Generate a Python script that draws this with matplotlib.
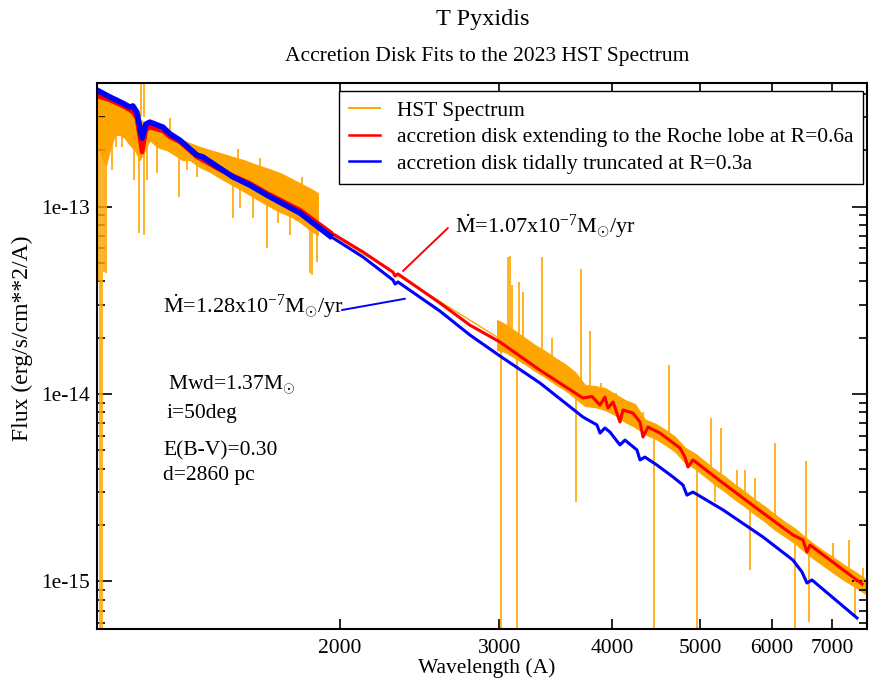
import numpy as np
import matplotlib
matplotlib.use('Agg')
import matplotlib.pyplot as plt
from matplotlib.lines import Line2D
from matplotlib.ticker import FixedLocator, FuncFormatter, NullFormatter, NullLocator

plt.rcParams['font.family'] = ['Liberation Serif', 'DejaVu Serif']
plt.rcParams['mathtext.fontset'] = 'custom'
plt.rcParams['mathtext.rm'] = 'Liberation Serif'
plt.rcParams['mathtext.it'] = 'Liberation Serif:italic'

SC = 1e-13  # all fluxes below are in units of 1e-13 erg/s/cm**2/A

# HST spectrum, UV part (noisy band: upper / lower envelope)
uv_wave = [1078, 1086, 1094, 1103, 1114, 1128, 1143, 1157, 1172, 1187,
           1202, 1218, 1233, 1249, 1265, 1288, 1315, 1341, 1365, 1401,
           1437, 1474, 1523, 1571, 1611, 1661, 1717, 1761, 1807, 1853, 1891]
uv_hi = [4.18, 3.93, 3.70, 3.70, 3.70, 3.70, 3.48, 3.35, 3.19, 3.08,
         2.89, 2.82, 2.79, 2.72, 2.62, 2.56, 2.41, 2.26, 2.18, 2.08,
         2.00, 1.93, 1.84, 1.76, 1.68, 1.60, 1.51, 1.42, 1.33, 1.25, 1.18]
uv_lo = [2.41, 2.00, 1.77, 1.66, 2.00, 2.41, 2.41, 2.32, 2.13, 2.00,
         1.77, 2.00, 2.26, 2.13, 2.05, 2.00, 1.88, 1.77, 1.77, 1.62,
         1.53, 1.42, 1.30, 1.195, 1.11, 1.02, 0.935, 0.890, 0.827, 0.750, 0.705]

# gap between the UV and optical spectra (joined by a straight line)
gap_wave = [1891, 2983]
gap_flux = [0.79, 0.2014]

# HST spectrum, optical part
opt_wave = [2983, 3044, 3123, 3203, 3285, 3370, 3457, 3546, 3637, 3731,
            3827, 3925, 4026, 4130, 4236, 4345, 4457, 4572, 4689, 4810,
            4934, 5061, 5191, 5325, 5462, 5603, 5747, 5895, 6046, 6202,
            6362, 6525, 6693, 6866, 7042, 7224, 7410, 7639]
opt_hi = [0.2481, 0.2362, 0.2168, 0.1989, 0.1825, 0.1696, 0.1556, 0.1445, 0.1310, 0.1117,
          0.1103, 0.1076, 0.1000, 0.0929, 0.0885, 0.0731, 0.0696, 0.0646, 0.0593, 0.0518,
          0.0482, 0.0437, 0.0395, 0.0363, 0.0329, 0.0302, 0.0274, 0.0251, 0.0228, 0.0208,
          0.0192, 0.0173, 0.0157, 0.0144, 0.0133, 0.0122, 0.0113, 0.0102]
opt_lo = [0.1716, 0.1675, 0.1556, 0.1445, 0.1327, 0.1232, 0.1131, 0.1050, 0.0952, 0.0863,
          0.0852, 0.0822, 0.0773, 0.0709, 0.0667, 0.0609, 0.0580, 0.0538, 0.0494, 0.0431,
          0.0401, 0.0364, 0.0329, 0.0302, 0.0274, 0.0251, 0.0228, 0.0209, 0.0189, 0.0174,
          0.0160, 0.0144, 0.0131, 0.0120, 0.0110, 0.0101, 0.0094, 0.0085]

# emission spikes: wavelength, base, peak
em_wave = [1205, 1215, 1298, 1543, 1632, 1816, 3068, 3083, 3099, 3155,
           3187, 3344, 3430, 3693, 3778, 3885, 4036, 4323, 4619, 5139,
           5271, 5490, 5603, 5747, 6046, 6542, 7007, 7298, 7562]
em_base = [3.0, 3.0, 2.3, 1.6, 1.4, 1.0, 0.165, 0.16, 0.16, 0.15,
           0.145, 0.13, 0.12, 0.10, 0.095, 0.085, 0.08, 0.065, 0.055, 0.038,
           0.035, 0.03, 0.028, 0.025, 0.02, 0.016, 0.0135, 0.011, 0.0095]
em_peak = [6.0, 6.0, 2.96, 2.03, 1.81, 1.44, 0.538, 0.5445, 0.3814, 0.3957,
           0.3499, 0.538, 0.1989, 0.4642, 0.2168, 0.1145, 0.1012, 0.0802, 0.1428, 0.0745,
           0.0659, 0.0393, 0.0393, 0.0356, 0.0548, 0.0439, 0.01604, 0.0166, 0.0118]

# absorption spikes / bad pixels: wavelength, base, minimum
ab_wave = [1081, 1086, 1092, 1096, 1103, 1119, 1131, 1148, 1184, 1199,
           1215, 1224, 1256, 1328, 1355, 1390, 1523, 1551, 1603, 1661,
           1708, 1761, 1853, 1863, 1886, 3012, 3138, 3646, 4446, 4959,
           5191, 5674, 6362, 6592, 7410]
ab_base = [3.5, 3.0, 3.0, 3.0, 2.5, 2.8, 2.8, 2.7, 2.5, 2.2,
           2.2, 2.3, 2.2, 2.0, 2.0, 1.9, 1.5, 1.4, 1.4, 1.2,
           1.1, 1.1, 0.9, 0.9, 0.9, 0.18, 0.16, 0.11, 0.06, 0.045,
           0.04, 0.028, 0.018, 0.016, 0.011]
ab_dip = [0.40, 0.004, 0.004, 0.45, 0.442, 1.57, 2.08, 2.08, 1.38, 0.722,
          0.705, 1.38, 1.51, 1.124, 1.57, 1.44, 0.868, 0.982, 0.868, 0.601,
          0.817, 0.705, 0.442, 0.431, 0.506, 0.004, 0.004, 0.0267, 0.004, 0.004,
          0.0267, 0.01151, 0.004, 0.00608, 0.00663]

# model: disk extending to the Roche lobe
red_wave = [1078, 1114, 1151, 1172, 1181, 1193, 1209, 1221, 1233, 1275,
            1298, 1331, 1390, 1474, 1591, 1661, 1807, 1950, 2121, 2289,
            2301, 2318, 2579, 2784, 3005, 3327, 3711, 3798, 3876, 3925,
            3955, 4007, 4078, 4109, 4215, 4291, 4324, 4379, 4515, 4751,
            4811, 4848, 4910, 5300, 5868, 6333, 6496, 6562, 6613, 7550]
red_flux = [3.89, 3.70, 3.44, 3.27, 3.19, 2.96, 1.95, 2.56, 2.65, 2.53,
            2.35, 2.21, 1.84, 1.57, 1.33, 1.18, 0.958, 0.731, 0.572, 0.447,
            0.426, 0.437, 0.306, 0.233, 0.1894, 0.134, 0.0952, 0.097, 0.0874, 0.0964,
            0.0842, 0.0907, 0.0709, 0.0822, 0.0792, 0.0709, 0.059, 0.0667, 0.0619, 0.0515,
            0.0461, 0.0408, 0.0445, 0.0335, 0.0232, 0.0177, 0.01665, 0.01437, 0.01565, 0.0097]

# model: tidally truncated disk
blue_wave = [1078, 1114, 1151, 1172, 1181, 1193, 1209, 1221, 1233, 1275,
             1298, 1331, 1390, 1411, 1474, 1523, 1591, 1661, 1807, 1886,
             1950, 2121, 2289, 2301, 2318, 2579, 2784, 3005, 3327, 3711,
             3846, 3876, 3925, 3975, 4078, 4130, 4258, 4291, 4345, 4480,
             4667, 4787, 4835, 4910, 5300, 5868, 6333, 6479, 6562, 6646, 7453]
blue_flux = [4.18, 3.84, 3.56, 3.39, 3.44, 3.19, 2.32, 2.75, 2.82, 2.65,
             2.44, 2.26, 1.88, 1.84, 1.60, 1.44, 1.30, 1.15, 0.923, 0.787,
             0.696, 0.538, 0.4055, 0.386, 0.396, 0.2771, 0.2064, 0.1595, 0.1145, 0.0754,
             0.0684, 0.0619, 0.0659, 0.0627, 0.0535, 0.0568, 0.0503, 0.0445, 0.0461, 0.0418,
             0.0361, 0.0327, 0.0289, 0.0300, 0.0241, 0.01727, 0.0130, 0.01124, 0.00982, 0.01019, 0.00639]

ORANGE = '#ffa500'

fig = plt.figure(figsize=(8.7, 6.85), dpi=100)
ax = fig.add_axes([97/870, 1-629/685, 770/870, 546/685])
ax.set_xscale('log')
ax.set_yscale('log')

s = lambda v: np.array(v) * SC

# spectrum
ax.fill_between(uv_wave, s(uv_lo), s(uv_hi), color=ORANGE, lw=0.8)
ax.fill_between(opt_wave, s(opt_lo), s(opt_hi), color=ORANGE, lw=0.8)
ax.plot(gap_wave, s(gap_flux), color=ORANGE, lw=1.0)
ax.vlines(em_wave, s(em_base), s(em_peak), color=ORANGE, lw=1.2)
ax.vlines(ab_wave, s(ab_dip), s(ab_base), color=ORANGE, lw=1.2)

# models: noisy (thick) in the UV, thin in the optical
rw, rf = np.array(red_wave), s(red_flux)
bw, bf = np.array(blue_wave), s(blue_flux)
ax.plot(rw[rw <= 1950], rf[rw <= 1950], color='red', lw=3.2, solid_joinstyle='round')
ax.plot(rw[rw >= 1950], rf[rw >= 1950], color='red', lw=2.2, solid_joinstyle='round')
ax.plot(bw[bw <= 1950], bf[bw <= 1950], color='blue', lw=4.0, solid_joinstyle='round')
ax.plot(bw[bw >= 1950], bf[bw >= 1950], color='blue', lw=2.2, solid_joinstyle='round')

ax.set_xlim(1078, 7645)
ax.set_ylim(5.58e-16, 4.56e-13)

# ticks
ax.xaxis.set_major_locator(FixedLocator([2000, 3000, 4000, 5000, 6000, 7000]))
ax.xaxis.set_major_formatter(FuncFormatter(lambda v, p: '%d' % v))
ax.xaxis.set_minor_locator(NullLocator())
ax.yaxis.set_major_locator(FixedLocator([1e-15, 1e-14, 1e-13]))
ax.yaxis.set_minor_locator(FixedLocator([m * 10.0**e for e in (-16, -15, -14, -13)
                                         for m in range(2, 10)
                                         if 5.58e-16 < m * 10.0**e < 4.56e-13]))
ax.yaxis.set_major_formatter(FuncFormatter(lambda v, p: '1e%d' % round(np.log10(v))))
ax.yaxis.set_minor_formatter(NullFormatter())
ax.tick_params(which='both', direction='in', top=True, right=True, labelsize=15.5, width=1.2)
ax.tick_params(axis='x', which='major', length=7, pad=7)
ax.tick_params(axis='y', which='major', length=11, pad=5)
ax.tick_params(axis='y', which='minor', length=5.5)
for sp in ax.spines.values():
    sp.set_linewidth(1.5)

# legend
handles = [Line2D([], [], color=ORANGE, lw=1.4),
           Line2D([], [], color='red', lw=1.8),
           Line2D([], [], color='blue', lw=1.8)]
labels = ['HST Spectrum',
          'accretion disk extending to the Roche lobe at R=0.6a',
          'accretion disk tidally truncated at R=0.3a']
leg = ax.legend(handles, labels, loc='upper right', bbox_to_anchor=(0.995, 0.985),
                fontsize=15.5, frameon=True, fancybox=False, framealpha=1,
                edgecolor='black', handlelength=1.45, handletextpad=0.8,
                borderpad=0.45, labelspacing=0.3, borderaxespad=0)
leg.get_frame().set_linewidth(1.0)

# annotations
ax.annotate('', xy=(2348, 0.453*SC), xytext=(2632, 0.768*SC),
            arrowprops=dict(arrowstyle='-', color='red', lw=1.4, shrinkA=0, shrinkB=0))
ax.annotate('', xy=(2360, 0.3223*SC), xytext=(2010, 0.2805*SC),
            arrowprops=dict(arrowstyle='-', color='blue', lw=1.4, shrinkA=0, shrinkB=0))
ax.text(0.465, 0.725, r'$\dot{\rm M}$=1.07x10$^{-7}$M$_{\odot}$/yr', transform=ax.transAxes,
        fontsize=16, va='baseline', ha='left')
ax.text(0.0857, 0.579, r'$\dot{\rm M}$=1.28x10$^{-7}$M$_{\odot}$/yr', transform=ax.transAxes,
        fontsize=16, va='baseline', ha='left')

ax.text(0.0922, 0.4377, r'Mwd=1.37M$_{\odot}$', transform=ax.transAxes, fontsize=15.5, va='baseline')
ax.text(0.0905, 0.3864, 'i=50deg', transform=ax.transAxes, fontsize=15.5, va='baseline')
ax.text(0.0861, 0.3187, 'E(B-V)=0.30', transform=ax.transAxes, fontsize=15.5, va='baseline')
ax.text(0.0861, 0.2729, 'd=2860 pc', transform=ax.transAxes, fontsize=15.5, va='baseline')

# titles and axis labels
fig.text(483/870, 1-20/685, 'T Pyxidis', ha='center', va='center', fontsize=17.5)
fig.text(487/870, 1-57/685, 'Accretion Disk Fits to the 2023 HST Spectrum',
         ha='center', va='center', fontsize=15.5)
fig.text(487/870, 1-668/685, 'Wavelength (A)', ha='center', va='center', fontsize=15.5)
fig.text(22/870, 1-338/685, 'Flux (erg/s/cm**2/A)', ha='center', va='center',
         rotation=90, fontsize=17)

fig.savefig('out.png', dpi=100)
